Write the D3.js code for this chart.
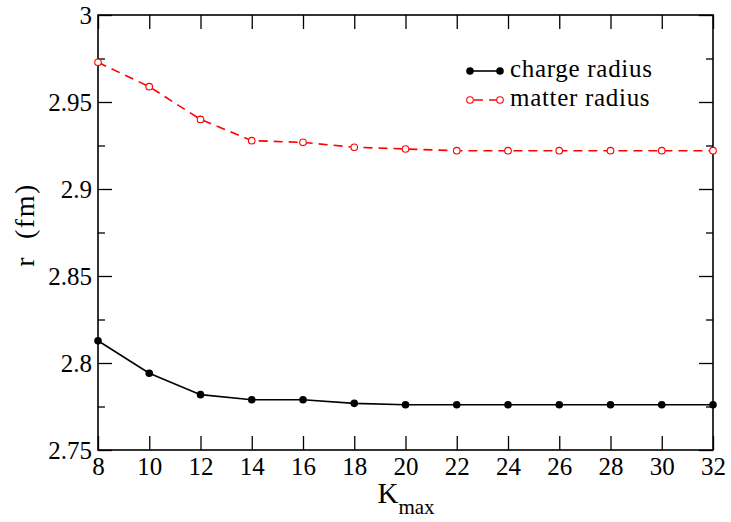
<!DOCTYPE html>
<html><head><meta charset="utf-8">
<script src="https://cdn.jsdelivr.net/npm/d3@7"></script>
<style>body{margin:0;background:#fff}</style>
</head><body><svg id="c" width="731" height="522"></svg>
<script>
const kmax = [8,10,12,14,16,18,20,22,24,26,28,30,32];
const chargeRadius = [2.8128,2.7941,2.7818,2.7789,2.7789,2.7768,2.7760,2.7760,2.7760,2.7760,2.7760,2.7760,2.7760];
const matterRadius = [2.9728,2.9588,2.9400,2.9278,2.9268,2.9240,2.9230,2.9220,2.9220,2.9220,2.9220,2.9220,2.9220];
const xTicks = [8,10,12,14,16,18,20,22,24,26,28,30,32];
const yTicks = [2.75,2.8,2.85,2.9,2.95,3];
const yMinor = [2.775,2.825,2.875,2.925,2.975];

const FF = "Liberation Serif";
const svg = d3.select("#c");
const L=98,R=713,T=15,B=450;
const x = d3.scaleLinear().domain([8,32]).range([L,R]);
const y = d3.scaleLinear().domain([2.75,3]).range([B,T]);
const fmtY = d => String(+d.toFixed(3));

svg.append("rect").attr("x",L).attr("y",T).attr("width",R-L).attr("height",B-T)
  .attr("fill","none").attr("stroke","#000").attr("stroke-width",1.6);

function axis(gen, tr, labels){
  const g = svg.append("g").attr("transform",tr).call(gen);
  g.attr("font-family",FF).attr("font-size",25);
  g.select(".domain").remove();
  g.selectAll(".tick line").attr("stroke","#000").attr("stroke-width",1.3);
  g.selectAll(".tick text").attr("fill","#000");
  if(!labels) g.selectAll(".tick text").remove();
  return g;
}
axis(d3.axisBottom(x).tickValues(xTicks).tickSize(-14).tickPadding(7).tickFormat(d3.format("d")), `translate(0,${B})`, true);
axis(d3.axisTop(x).tickValues(xTicks).tickSize(-14).tickFormat(""), `translate(0,${T})`, false);
axis(d3.axisLeft(y).tickValues(yTicks).tickSize(-14).tickPadding(6).tickFormat(fmtY), `translate(${L},0)`, true);
axis(d3.axisRight(y).tickValues(yTicks).tickSize(-14).tickFormat(""), `translate(${R},0)`, false);
axis(d3.axisLeft(y).tickValues(yMinor).tickSize(-7).tickFormat(""), `translate(${L},0)`, false);
axis(d3.axisRight(y).tickValues(yMinor).tickSize(-7).tickFormat(""), `translate(${R},0)`, false);

svg.append("text").attr("transform",`translate(34,225) rotate(-90)`).attr("text-anchor","middle")
  .attr("font-family",FF).attr("font-size",28).attr("letter-spacing",1.5)
  .style("white-space","pre").text("r  (fm)");
const xt = svg.append("text").attr("x",406).attr("y",503).attr("text-anchor","middle").attr("font-family",FF).attr("font-size",29);
xt.append("tspan").text("K");
xt.append("tspan").attr("font-size",21).attr("dy",11).text("max");

const line = d3.line().x(d=>x(d[0])).y(d=>y(d[1]));
const cData = kmax.map((k,i)=>[k,chargeRadius[i]]);
const mData = kmax.map((k,i)=>[k,matterRadius[i]]);

svg.append("path").datum(cData).attr("d",line).attr("fill","none").attr("stroke","#000").attr("stroke-width",1.6);
svg.selectAll(".cp").data(cData).enter().append("circle").attr("cx",d=>x(d[0])).attr("cy",d=>y(d[1])).attr("r",3.8).attr("fill","#000");

svg.append("path").datum(mData).attr("d",line).attr("fill","none").attr("stroke","#f00").attr("stroke-width",1.6).attr("stroke-dasharray","9,6");
svg.selectAll(".mp").data(mData).enter().append("circle").attr("cx",d=>x(d[0])).attr("cy",d=>y(d[1])).attr("r",3.3).attr("fill","#fff").attr("stroke","#f00").attr("stroke-width",1.1);

const lg = svg.append("g");
lg.append("line").attr("x1",470).attr("x2",500).attr("y1",71).attr("y2",71).attr("stroke","#000").attr("stroke-width",1.6);
[470,500].forEach(cx=>lg.append("circle").attr("cx",cx).attr("cy",71).attr("r",3.8).attr("fill","#000"));
lg.append("text").attr("x",510).attr("y",77).attr("font-family",FF).attr("font-size",25).attr("letter-spacing",0.7).text("charge radius");
lg.append("line").attr("x1",470).attr("x2",500).attr("y1",100).attr("y2",100).attr("stroke","#f00").attr("stroke-width",1.6).attr("stroke-dasharray","9,6").attr("stroke-dashoffset",-4);
[470,500].forEach(cx=>lg.append("circle").attr("cx",cx).attr("cy",100).attr("r",3.3).attr("fill","#fff").attr("stroke","#f00").attr("stroke-width",1.1));
lg.append("text").attr("x",510).attr("y",106).attr("font-family",FF).attr("font-size",25).attr("letter-spacing",0.7).text("matter radius");
</script></body></html>
